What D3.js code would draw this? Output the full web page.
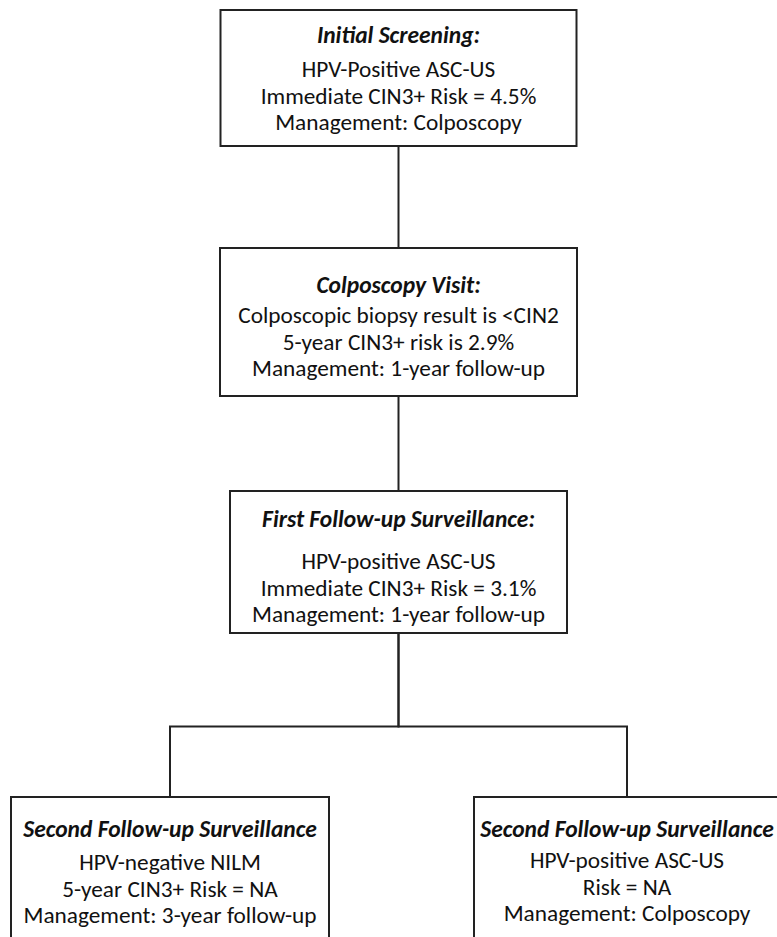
<!DOCTYPE html>
<html>
<head>
<meta charset="utf-8">
<script src="https://cdn.jsdelivr.net/npm/d3@7"></script>
<style>
  body { margin: 0; background: #fff; }
  svg { display: block; }
</style>
</head>
<body>
<svg id="chart"></svg>
<script>
// flowchart content
const ids = ["initial", "colpo", "first", "second_neg", "second_pos"];
const parents = [null, "initial", "colpo", "first", "first"];
const titles = [
  "Initial Screening:",
  "Colposcopy Visit:",
  "First Follow-up Surveillance:",
  "Second Follow-up Surveillance",
  "Second Follow-up Surveillance"
];
const bodyLines = [
  ["HPV-Positive ASC-US", "Immediate CIN3+ Risk = 4.5%", "Management: Colposcopy"],
  ["Colposcopic biopsy result is <CIN2", "5-year CIN3+ risk is 2.9%", "Management: 1-year follow-up"],
  ["HPV-positive ASC-US", "Immediate CIN3+ Risk = 3.1%", "Management: 1-year follow-up"],
  ["HPV-negative NILM", "5-year CIN3+ Risk = NA", "Management: 3-year follow-up"],
  ["HPV-positive ASC-US", "Risk = NA", "Management: Colposcopy"]
];

const width = 777, height = 937;
const svg = d3.select("#chart").attr("width", width).attr("height", height);

// layout per level / per box
const levelTop = [10, 248, 491, 797];
const boxW = { initial: 356, colpo: 357, first: 337, second_neg: 318, second_pos: 306 };
const boxH = { initial: 136, colpo: 148, first: 142, second_neg: 170, second_pos: 170 };
const titleOff = { initial: 33, colpo: 45, first: 36, second_neg: 40, second_pos: 40 };
const titleGap = { initial: 34, colpo: 30, first: 42, second_neg: 33, second_pos: 31 };
const lineGap = 26.5;
const fontFam = "Carlito, Lato, 'Open Sans', sans-serif";
const bodySize = 23.3, titleSize = 23.5;

const table = ids.map((id, i) => ({ id, parent: parents[i], title: titles[i], lines: bodyLines[i] }));
const root = d3.stratify().id(d => d.id).parentId(d => d.parent)(table);

// leaves spread along x, parents centred over their children
const leaves = root.leaves();
const xLeaf = d3.scaleLinear().domain([0, leaves.length - 1]).range([170, 627]);
leaves.forEach((d, i) => { d.cx = xLeaf(i); });
root.eachAfter(d => {
  if (d.children) d.cx = d3.mean(d.children, c => c.cx);
  d.top = levelTop[d.depth];
  d.w = boxW[d.id];
  d.h = boxH[d.id];
});

// connectors
const branchY = d => d.parent.top + d.parent.h + (d.top - d.parent.top - d.parent.h) * 0.57;
svg.append("g")
  .selectAll("path")
  .data(root.links())
  .join("path")
  .attr("d", l => {
    const s = l.source, t = l.target;
    const my = branchY(t);
    return `M${s.cx},${s.top + s.h}V${my}H${t.cx}V${t.top}`;
  })
  .attr("fill", "none")
  .attr("stroke", "#222")
  .attr("stroke-width", 2);

// boxes
const node = svg.append("g")
  .selectAll("g")
  .data(root.descendants())
  .join("g")
  .attr("transform", d => `translate(${d.cx},${d.top})`);

node.append("rect")
  .attr("x", d => -d.w / 2)
  .attr("y", 0)
  .attr("width", d => d.w)
  .attr("height", d => d.h)
  .attr("fill", "#fff")
  .attr("stroke", "#222")
  .attr("stroke-width", 2);

node.append("text")
  .attr("text-anchor", "middle")
  .attr("y", d => titleOff[d.id])
  .attr("font-family", fontFam)
  .attr("font-size", titleSize)
  .attr("font-weight", "bold")
  .attr("font-style", "italic")
  .attr("fill", "#111")
  .text(d => d.data.title);

node.each(function(d) {
  d3.select(this).selectAll("text.line")
    .data(d.data.lines)
    .join("text")
    .attr("class", "line")
    .attr("text-anchor", "middle")
    .attr("y", (t, i) => titleOff[d.id] + titleGap[d.id] + i * lineGap)
    .attr("font-family", fontFam)
    .attr("font-size", bodySize)
    .attr("fill", "#111")
    .text(t => t);
});
</script>
</body>
</html>
